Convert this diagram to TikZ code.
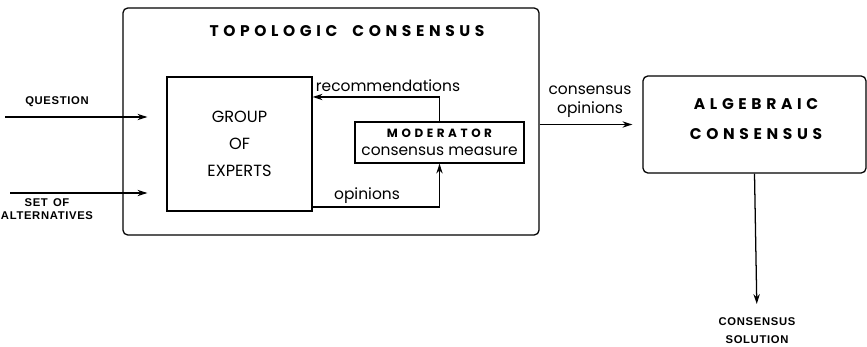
\documentclass[tikz,border=0pt]{standalone}
\usepackage{fontspec}
\setmainfont{Poppins}
\newfontfamily\spacedfont[LetterSpace=30]{Poppins}
\newfontfamily\tagfont[LetterSpace=6]{Liberation Sans}
\usepackage{tikz}
\usetikzlibrary{arrows.meta, positioning}

\begin{document}
\begin{tikzpicture}[
  x=0.025cm, y=-0.025cm,
  line width=0.9pt,
  box/.style={
    draw,
    line width=0.9pt,
    align=center,
    inner sep=0pt
  },
  roundbox/.style={
    box,
    rounded corners=3.5pt
  },
  arr/.style={
    -{Stealth[length=7pt,width=4.5pt]},
    line width=0.9pt
  },
  heading/.style={
    font=\spacedfont\bfseries\fontsize{11}{21}\selectfont,
    align=center
  },
  word/.style={
    font=\fontsize{11}{13.5}\selectfont,
    align=center,
    inner sep=1pt
  },
  tag/.style={
    font=\tagfont\bfseries\fontsize{8}{8}\selectfont,
    align=center,
    inner sep=1pt
  }
]

\useasboundingbox (0,0) rectangle (867,347);

% -------------------------------------------------------------------
% Topologic consensus
% -------------------------------------------------------------------
\node[roundbox, minimum width=10.4cm, minimum height=5.675cm] (topo) at (331,121.5) {};

\node[heading] (topotitle) at (347,31) {TOPOLOGIC\hspace{5pt} CONSENSUS};

\node[box, minimum width=3.625cm, minimum height=3.35cm,
  font=\fontsize{11.5}{19}\selectfont] (group) at (239.5,144)
{GROUP\\OF\\EXPERTS};

\node[box, minimum width=4.225cm, minimum height=1.025cm,
  font=\fontsize{11}{13}\selectfont] (moderator) at (439.5,142.5)
{{\spacedfont\bfseries\fontsize{8.5}{13}\selectfont MODERATOR}\\consensus measure};

% -------------------------------------------------------------------
% Algebraic consensus
% -------------------------------------------------------------------
\node[roundbox, minimum width=5.575cm, minimum height=2.425cm] (alg) at (754.5,124.5) {};
\node[heading] (algtitle) at (756,119) {ALGEBRAIC\\CONSENSUS};

% Inputs
\coordinate (qin) at (5,117);
\coordinate (sin) at (10,193);
\node[tag] (question) at (57,102) {QUESTION};
\node[tag, font=\tagfont\bfseries\fontsize{8}{9.5}\selectfont] (alternatives) at (47,209)
{SET\hspace{1pt} OF\\ALTERNATIVES};

\draw[arr, shorten >=0.475cm] (qin) -- (qin -| group.west);
\draw[arr, shorten >=0.475cm] (sin) -- (sin -| group.west);

% Feedback loop
\draw[arr] (moderator.north) |- ([yshift=1.175cm]group.east);
\node[word] (recommendations) at (388,86) {recommendations};

\draw[arr] ([yshift=-1.575cm]group.east) -| (moderator.south);
\node[word] (opinions) at (367,196) {opinions};

% To algebraic consensus
\draw[arr, shorten >=0.25cm] (topo.east |- alg.west) -- (alg.west);
\node[word] (consop) at (590,102) {consensus\\opinions};

% Output
\node[tag, font=\tagfont\bfseries\fontsize{8}{12.8}\selectfont] (solution) at (757,331)
{CONSENSUS\\SOLUTION};
\draw[arr, shorten >=0.3cm] (alg.south) -- (solution.north);

\end{tikzpicture}
\end{document}
